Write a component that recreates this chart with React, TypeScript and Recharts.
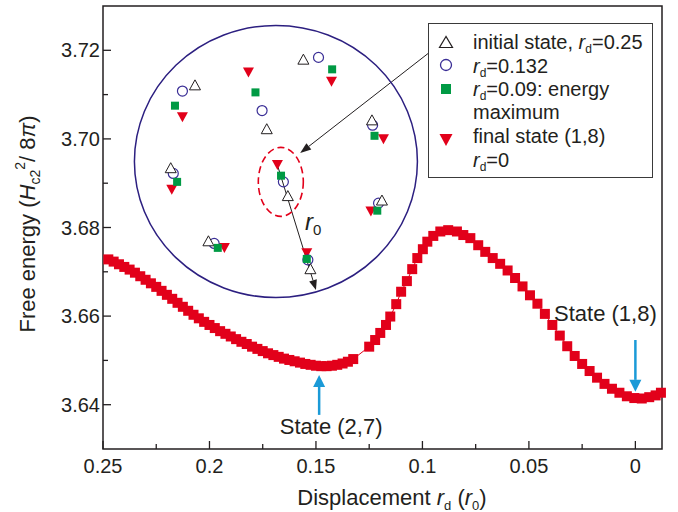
import {
  ScatterChart,
  Scatter,
  XAxis,
  YAxis,
  ReferenceArea,
  ReferenceLine,
  ReferenceDot,
  Legend,
} from 'recharts';

const FONT = '"Liberation Sans", Arial, Helvetica, sans-serif';
const INK = '#231f20';
const RED = '#e2001a';
const GREEN = '#009a44';
const PURPLE = '#3a2e96';
const NAVY = '#2c1f80';
const BLUE = '#1b9ad7';

// displacement r_d (in r0) along the transition path
const rd = [
  0.2475, 0.245, 0.2425, 0.24, 0.2375, 0.235, 0.2325, 0.23, 0.2275, 0.225,
  0.2225, 0.22, 0.2175, 0.215, 0.2125, 0.21, 0.2075, 0.205, 0.2025, 0.2,
  0.1975, 0.195, 0.1925, 0.19, 0.1875, 0.185, 0.1825, 0.18, 0.1775, 0.175,
  0.1725, 0.17, 0.1675, 0.165, 0.1625, 0.16, 0.1575, 0.155, 0.1525, 0.15,
  0.1475, 0.145, 0.1425, 0.14, 0.1375, 0.135, 0.1325,
  0.125, 0.1222, 0.1198, 0.1171, 0.1151, 0.1123, 0.11, 0.1073, 0.1048, 0.1024,
  0.0998, 0.0977, 0.0949, 0.0916, 0.0879, 0.0838, 0.0808, 0.0775, 0.0738, 0.0705,
  0.067, 0.0635, 0.06, 0.0565, 0.053, 0.0495, 0.046, 0.0425, 0.039, 0.0355,
  0.032, 0.0285, 0.025, 0.0215, 0.018, 0.0145, 0.011, 0.0075, 0.004, 0.0005,
  -0.003, -0.0065, -0.0095, -0.012,
];

// free energy in units of Hc2^2/8pi
const energy = [
  3.6728, 3.6723, 3.6717, 3.6711, 3.6705, 3.6698, 3.669, 3.6682, 3.6674, 3.6666,
  3.6657, 3.6648, 3.6639, 3.663, 3.6621, 3.6612, 3.6603, 3.6595, 3.6587, 3.658,
  3.6573, 3.6566, 3.656, 3.6554, 3.6548, 3.6542, 3.6537, 3.6531, 3.6526, 3.6521,
  3.6516, 3.6512, 3.6508, 3.6504, 3.6501, 3.6498, 3.6495, 3.6492, 3.649, 3.6488,
  3.6487, 3.6487, 3.6488, 3.649, 3.6493, 3.6497, 3.6503,
  3.6531, 3.6546, 3.6562, 3.658, 3.6599, 3.6627, 3.6655, 3.6679, 3.6706, 3.6731,
  3.6751, 3.6768, 3.6781, 3.6791, 3.6794, 3.6791, 3.6783, 3.6776, 3.676, 3.6745,
  3.6731, 3.6718, 3.6703, 3.6686, 3.6667, 3.6647, 3.6628, 3.6605, 3.658, 3.6556,
  3.6532, 3.651, 3.6492, 3.6476, 3.6461, 3.6447, 3.6436, 3.6427, 3.6419, 3.6415,
  3.6414, 3.6417, 3.6421, 3.6427,
];

// inset: vortex positions, drawn in the plot's own coordinates
const initialState = [
  [0.1559, 3.718], [0.2068, 3.7122], [0.1731, 3.7023], [0.1237, 3.7043], [0.2182, 3.6935],
  [0.1632, 3.6872], [0.119, 3.6862], [0.2005, 3.677], [0.1526, 3.6707],
];
const midState = [
  [0.1488, 3.7184], [0.2127, 3.7108], [0.1753, 3.7064], [0.1234, 3.7031], [0.217, 3.6922],
  [0.1653, 3.6903], [0.1206, 3.6855], [0.1978, 3.6764], [0.1538, 3.6727],
];
const saddleState = [
  [0.1424, 3.7157], [0.2162, 3.7075], [0.1784, 3.7105], [0.1225, 3.7007], [0.2152, 3.6903],
  [0.1664, 3.6917], [0.1212, 3.6838], [0.1961, 3.6754], [0.1543, 3.6729],
];
const finalState = [
  [0.1427, 3.7129], [0.2127, 3.7049], [0.1817, 3.715], [0.1183, 3.6999], [0.2177, 3.6885],
  [0.1681, 3.6941], [0.1242, 3.6836], [0.193, 3.6754], [0.1543, 3.6742],
];

const insetCenter = { x: 0.1688, y: 3.6949 };
const movingVortex = { x: 0.1665, y: 3.6903 };
const r0Segment = [{ x: 0.1681, y: 3.6941 }, { x: 0.15, y: 3.6659 }];
const r0LabelAt = { x: 0.1551, y: 3.6794 };
const pointerSegment = [{ x: 0.0973, y: 3.7193 }, { x: 0.1574, y: 3.6968 }];
const state27 = [{ x: 0.1485, y: 3.6377 }, { x: 0.1485, y: 3.6467 }];
const state18 = [{ x: 0, y: 3.6546 }, { x: 0, y: 3.6429 }];

const xMajor = [0.25, 0.2, 0.15, 0.1, 0.05, 0];
const xLabels = ['0.25', '0.2', '0.15', '0.1', '0.05', '0'];
const xMinor = [0.225, 0.175, 0.125, 0.075, 0.025];
const yMajor = [3.64, 3.66, 3.68, 3.7, 3.72];
const yLabels = ['3.64', '3.66', '3.68', '3.70', '3.72'];
const yMinor = [3.65, 3.67, 3.69, 3.71];

const curve = rd.map((x, i) => ({ x, y: energy[i] }));
const toPts = (arr: number[][]) => arr.map(([x, y]) => ({ x, y }));

const findIdx = (arr: number[], v: number) => arr.findIndex((a) => Math.abs(a - v) < 1e-6);

function XTick(props: any) {
  const { x, y, payload } = props;
  const i = findIdx(xMajor, payload.value);
  return (
    <g>
      <line x1={x} x2={x} y1={y} y2={y - (i >= 0 ? 8 : 5)} stroke={INK} strokeWidth={1.3} />
      {i >= 0 && (
        <text x={x} y={y + 24} textAnchor="middle" fontFamily={FONT} fontSize={20} fill={INK}>
          {xLabels[i]}
        </text>
      )}
    </g>
  );
}

function YTick(props: any) {
  const { x, y, payload } = props;
  const i = findIdx(yMajor, payload.value);
  return (
    <g>
      <line x1={x} x2={x + (i >= 0 ? 8 : 5)} y1={y} y2={y} stroke={INK} strokeWidth={1.3} />
      {i >= 0 && (
        <text x={x - 3} y={y + 7} textAnchor="end" fontFamily={FONT} fontSize={20} fill={INK}>
          {yLabels[i]}
        </text>
      )}
    </g>
  );
}

function XTitle(props: any) {
  const { x, y } = props.viewBox;
  return (
    <text x={x + 289} y={y + 56} textAnchor="middle" fontFamily={FONT} fontSize={22} fill={INK}>
      Displacement <tspan fontStyle="italic">r</tspan>
      <tspan fontSize={13} dy={5}>d</tspan>
      <tspan dy={-5}> (</tspan>
      <tspan fontStyle="italic">r</tspan>
      <tspan fontSize={13} dy={5}>0</tspan>
      <tspan dy={-5}>)</tspan>
    </text>
  );
}

function YTitle() {
  const cx = 35;
  const cy = 224;
  return (
    <text
      x={cx}
      y={cy}
      transform={`rotate(-90 ${cx} ${cy})`}
      textAnchor="middle"
      fontFamily={FONT}
      fontSize={22}
      fill={INK}
    >
      Free energy (<tspan fontStyle="italic">H</tspan>
      <tspan fontSize={14} dy={5}>c2</tspan>
      <tspan fontSize={14} dy={-15}>2</tspan>
      <tspan dy={10}>/ 8</tspan>
      <tspan fontStyle="italic">π</tspan>)
    </text>
  );
}

const upTri = (cx: number, cy: number, w: number, h: number) =>
  `${cx},${cy - h / 2} ${cx - w / 2},${cy + h / 2} ${cx + w / 2},${cy + h / 2}`;
const downTri = (cx: number, cy: number, w: number, h: number) =>
  `${cx - w / 2},${cy - h / 2} ${cx + w / 2},${cy - h / 2} ${cx},${cy + h / 2}`;

const SquareMark = (p: any) => <rect x={p.cx - 5} y={p.cy - 5} width={10} height={10} fill={RED} />;
const TriMark = (p: any) => (
  <polygon points={upTri(p.cx, p.cy, 11, 10)} fill="#fff" stroke={INK} strokeWidth={1} />
);
const CircleMark = (p: any) => (
  <circle cx={p.cx} cy={p.cy} r={5} fill="none" stroke={PURPLE} strokeWidth={1.2} />
);
const GreenMark = (p: any) => <rect x={p.cx - 4} y={p.cy - 4} width={8} height={8} fill={GREEN} />;
const DownMark = (p: any) => <polygon points={downTri(p.cx, p.cy, 11, 10)} fill={RED} />;

function arrowShape(color: string, width: number, headLen: number, headW: number) {
  return (p: any) => {
    const { x1, y1, x2, y2 } = p;
    const a = Math.atan2(y2 - y1, x2 - x1);
    const bx = x2 - headLen * Math.cos(a);
    const by = y2 - headLen * Math.sin(a);
    const px = (-Math.sin(a) * headW) / 2;
    const py = (Math.cos(a) * headW) / 2;
    return (
      <g>
        <line x1={x1} y1={y1} x2={bx} y2={by} stroke={color} strokeWidth={width} />
        <polygon points={`${x2},${y2} ${bx + px},${by + py} ${bx - px},${by - py}`} fill={color} />
      </g>
    );
  };
}

function stateArrow(text: string, dx: number, dy: number) {
  const arrow = arrowShape(BLUE, 2.5, 12, 12);
  return (p: any) => (
    <g>
      {arrow(p)}
      <text x={p.x1 + dx} y={p.y1 + dy} textAnchor="middle" fontFamily={FONT} fontSize={22} fill={INK}>
        {text}
      </text>
    </g>
  );
}

const Rd = ({ value }: { value: string }) => (
  <>
    <tspan fontStyle="italic">r</tspan>
    <tspan fontSize={12} dy={4}>d</tspan>
    <tspan dy={-4}>{value}</tspan>
  </>
);

function LegendBox() {
  const t = { fontFamily: FONT, fontSize: 20, fill: INK };
  return (
    <div style={{ width: 225, height: 155, border: '1px solid #3a3a3a', background: '#fff', boxSizing: 'border-box' }}>
      <svg width={223} height={153} style={{ display: 'block' }}>
        <polygon points={upTri(17, 18, 13, 11)} fill="#fff" stroke={INK} strokeWidth={1.2} />
        <circle cx={17} cy={41} r={5.5} fill="none" stroke={PURPLE} strokeWidth={1.3} />
        <rect x={12} y={60} width={10} height={10} fill={GREEN} />
        <polygon points={downTri(17, 116, 13, 12)} fill={RED} />
        <text x={44} y={25} {...t}>
          initial state, <Rd value="=0.25" />
        </text>
        <text x={44} y={48.5} {...t}>
          <Rd value="=0.132" />
        </text>
        <text x={44} y={71.5} {...t}>
          <Rd value="=0.09: energy" />
        </text>
        <text x={44} y={95} {...t}>
          maximum
        </text>
        <text x={44} y={119} {...t}>
          final state (1,8)
        </text>
        <text x={44} y={142.5} {...t}>
          <Rd value="=0" />
        </text>
      </svg>
    </div>
  );
}

export default function App() {
  return (
    <div style={{ position: 'absolute', left: 0, top: 0, width: 678, height: 512, background: '#fff' }}>
      <ScatterChart width={678} height={512} margin={{ top: 6, right: 16, bottom: 0, left: 0 }}>
        <XAxis
          type="number"
          dataKey="x"
          domain={[-0.0125, 0.25]}
          reversed
          ticks={[...xMajor, ...xMinor].sort((a, b) => b - a)}
          interval={0}
          tick={XTick}
          tickSize={0}
          tickMargin={0}
          tickLine={false}
          axisLine={false}
          height={63}
          label={XTitle}
        />
        <YAxis
          type="number"
          dataKey="y"
          domain={[3.63, 3.73]}
          ticks={[...yMajor, ...yMinor].sort((a, b) => a - b)}
          interval={0}
          tick={YTick}
          tickSize={0}
          tickMargin={0}
          tickLine={false}
          axisLine={false}
          width={103}
          label={YTitle}
        />
        <ReferenceArea x1={-0.0125} x2={0.25} y1={3.63} y2={3.73} fill="none" stroke={INK} strokeWidth={1.5} />
        <ReferenceDot
          x={insetCenter.x}
          y={insetCenter.y}
          shape={(p: any) => (
            <ellipse cx={p.cx} cy={p.cy} rx={141.5} ry={136} fill="none" stroke={NAVY} strokeWidth={1.5} />
          )}
        />
        <ReferenceDot
          x={movingVortex.x}
          y={movingVortex.y}
          shape={(p: any) => (
            <ellipse
              cx={p.cx}
              cy={p.cy}
              rx={22.5}
              ry={34.5}
              fill="none"
              stroke={RED}
              strokeWidth={1.6}
              strokeDasharray="7 4"
            />
          )}
        />
        <ReferenceLine segment={r0Segment} shape={arrowShape(INK, 1, 10, 8)} />
        <ReferenceDot
          x={r0LabelAt.x}
          y={r0LabelAt.y}
          shape={(p: any) => (
            <text x={p.cx} y={p.cy} fontFamily={FONT} fontSize={24} fill={INK}>
              <tspan fontStyle="italic">r</tspan>
              <tspan fontSize={15} dy={5}>0</tspan>
            </text>
          )}
        />
        <Scatter
          name="Free energy"
          data={curve}
          shape={SquareMark}
          line={{ stroke: RED, strokeWidth: 1 }}
          isAnimationActive={false}
        />
        <Scatter name="final state" data={toPts(finalState)} shape={DownMark} isAnimationActive={false} />
        <Scatter name="rd=0.132" data={toPts(midState)} shape={CircleMark} isAnimationActive={false} />
        <Scatter name="initial state" data={toPts(initialState)} shape={TriMark} isAnimationActive={false} />
        <Scatter name="energy maximum" data={toPts(saddleState)} shape={GreenMark} isAnimationActive={false} />
        <ReferenceLine segment={pointerSegment} shape={arrowShape(INK, 1, 11, 8)} />
        <ReferenceLine segment={state27} shape={stateArrow('State (2,7)', 12, 19)} />
        <ReferenceLine segment={state18} shape={stateArrow('State (1,8)', -30, -19)} />
        <Legend
          verticalAlign="middle"
          align="center"
          content={LegendBox}
          wrapperStyle={{ left: 428, top: 23, width: 225, height: 155 }}
        />
      </ScatterChart>
    </div>
  );
}
